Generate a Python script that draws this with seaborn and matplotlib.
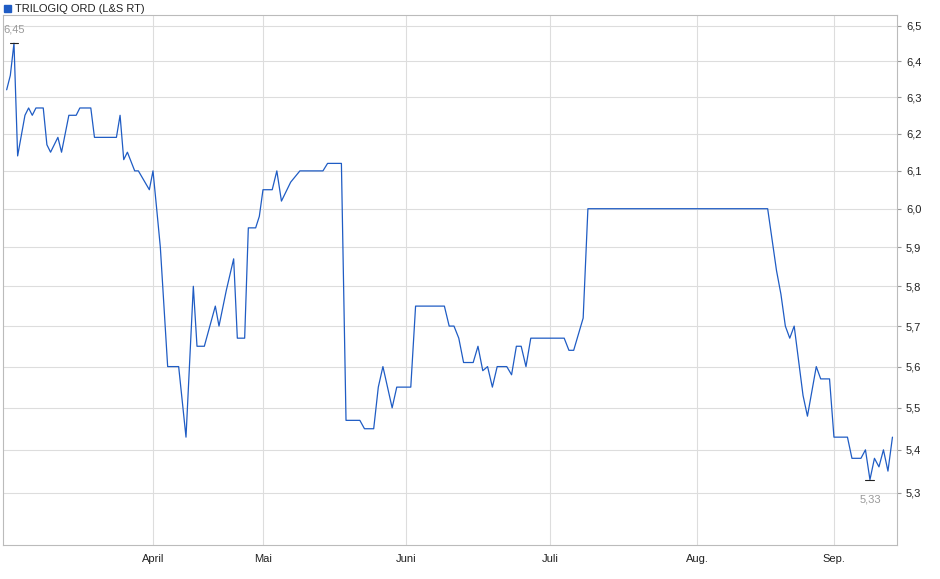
import matplotlib
matplotlib.use("Agg")
import matplotlib.pyplot as plt
import matplotlib.dates as mdates
import matplotlib.ticker as mticker
import seaborn as sns
import pandas as pd
import numpy as np

dates = ["2023-02-20","2023-02-21","2023-02-22","2023-02-23","2023-02-25","2023-02-26","2023-02-27","2023-02-28",
         "2023-03-02","2023-03-03","2023-03-04","2023-03-06","2023-03-07","2023-03-09","2023-03-11","2023-03-12",
         "2023-03-15","2023-03-16","2023-03-22","2023-03-23","2023-03-24","2023-03-25","2023-03-27","2023-03-28",
         "2023-03-31","2023-04-01","2023-04-02","2023-04-03","2023-04-05","2023-04-08","2023-04-10","2023-04-12",
         "2023-04-13","2023-04-15","2023-04-18","2023-04-19","2023-04-21","2023-04-23","2023-04-24","2023-04-26",
         "2023-04-27","2023-04-29","2023-04-30","2023-05-01","2023-05-03","2023-05-04","2023-05-05","2023-05-07",
         "2023-05-09","2023-05-14","2023-05-15","2023-05-18","2023-05-19","2023-05-22","2023-05-23","2023-05-25",
         "2023-05-26","2023-05-27","2023-05-29","2023-05-30","2023-06-02","2023-06-03","2023-06-09","2023-06-10",
         "2023-06-11","2023-06-12","2023-06-13","2023-06-15","2023-06-16","2023-06-17","2023-06-18","2023-06-19",
         "2023-06-20","2023-06-22","2023-06-23","2023-06-24","2023-06-25","2023-06-26","2023-06-27","2023-07-04",
         "2023-07-05","2023-07-06","2023-07-08","2023-07-09","2023-08-17","2023-08-19","2023-08-20","2023-08-21",
         "2023-08-22","2023-08-23","2023-08-25","2023-08-26","2023-08-28","2023-08-29","2023-08-31","2023-09-01",
         "2023-09-04","2023-09-05","2023-09-07","2023-09-08","2023-09-09","2023-09-10","2023-09-11","2023-09-12",
         "2023-09-13","2023-09-14"]
prices = [6.32,6.36,6.45,6.14,6.25,6.27,6.25,6.27,
          6.27,6.17,6.15,6.19,6.15,6.25,6.25,6.27,
          6.27,6.19,6.19,6.25,6.13,6.15,6.10,6.10,
          6.05,6.10,6.00,5.90,5.60,5.60,5.43,5.80,
          5.65,5.65,5.75,5.70,5.79,5.87,5.67,5.67,
          5.95,5.95,5.98,6.05,6.05,6.10,6.02,6.07,
          6.10,6.10,6.12,6.12,5.47,5.47,5.45,5.45,
          5.55,5.60,5.50,5.55,5.55,5.75,5.75,5.70,
          5.70,5.67,5.61,5.61,5.65,5.59,5.60,5.55,
          5.60,5.60,5.58,5.65,5.65,5.60,5.67,5.67,
          5.64,5.64,5.72,6.00,6.00,5.84,5.78,5.70,
          5.67,5.70,5.53,5.48,5.60,5.57,5.57,5.43,
          5.43,5.38,5.38,5.40,5.33,5.38,5.36,5.40,
          5.35,5.43]
yticks = [5.3,5.4,5.5,5.6,5.7,5.8,5.9,6.0,6.1,6.2,6.3,6.4,6.5]
month_ticks = ["2023-04-01","2023-05-01","2023-06-01","2023-07-01","2023-08-01","2023-09-01"]
month_labels = ["April","Mai","Juni","Juli","Aug.","Sep."]
series_name = "TRILOGIQ ORD (L&S RT)"

# axis spacing of the source chart (uneven per month): date anchors -> relative position
anchor_dates = mdates.date2num(pd.to_datetime(["2023-02-19","2023-04-01","2023-05-01","2023-06-01",
                                               "2023-07-01","2023-08-01","2023-09-01","2023-09-15"]))
anchor_pos = np.array([0, 150, 260, 403, 547, 694, 831, 894], dtype=float)

def fwd(x):
    return np.interp(x, anchor_dates, anchor_pos, left=None, right=None)
def inv(p):
    return np.interp(p, anchor_pos, anchor_dates)

df = pd.DataFrame({"date": pd.to_datetime(dates), "price": prices})
sns.set_style("white")
plt.rcParams['font.family'] = ['Liberation Sans', 'DejaVu Sans']

fig = plt.figure(figsize=(9.4, 5.79), dpi=100)
ax = fig.add_axes([0.0032, 0.0587, 0.951, 0.9154])
color = "#1f5cc4"
sns.lineplot(data=df, x="date", y="price", ax=ax, color=color, linewidth=0.9)
ax.set_xscale("function", functions=(fwd, inv))
ax.set_yscale("log")
ax.set_ylim(5.18, 6.53)
ax.set_xlim(anchor_dates[0], anchor_dates[-1])
ax.yaxis.tick_right()
ax.yaxis.set_major_locator(mticker.FixedLocator(yticks))
ax.yaxis.set_minor_locator(mticker.NullLocator())
ax.yaxis.set_major_formatter(mticker.FuncFormatter(lambda v, p: f"{v:.1f}".replace(".", ",")))
ax.xaxis.set_major_locator(mticker.FixedLocator(mdates.date2num(pd.to_datetime(month_ticks))))
ax.xaxis.set_minor_locator(mticker.NullLocator())
ax.xaxis.set_major_formatter(mticker.FixedFormatter(month_labels))
ax.tick_params(labelsize=8, length=3, color="#999999", colors="#222222")
ax.grid(True, color="#dddddd", linewidth=0.8)
for s in ax.spines.values():
    s.set_color("#bbbbbb")
ax.set_xlabel(""); ax.set_ylabel("")

imax = df["price"].idxmax(); imin = df["price"].idxmin()
for i, off in [(imax, 10), (imin, -14)]:
    d, v = df.loc[i, "date"], df.loc[i, "price"]
    ax.plot([d - pd.Timedelta(days=1), d + pd.Timedelta(days=1)], [v, v], color="#222222", lw=0.8)
    ax.annotate(f"{v:.2f}".replace(".", ","), (d, v), xytext=(0, off), textcoords="offset points",
                ha="center", va="center", fontsize=8, color="#999999")

fig.patches.append(plt.Rectangle((0.004, 0.979), 0.008, 0.013, transform=fig.transFigure, color=color))
fig.text(0.016, 0.985, series_name, fontsize=8, va="center", color="#222222")
fig.savefig("out.png", dpi=100)
